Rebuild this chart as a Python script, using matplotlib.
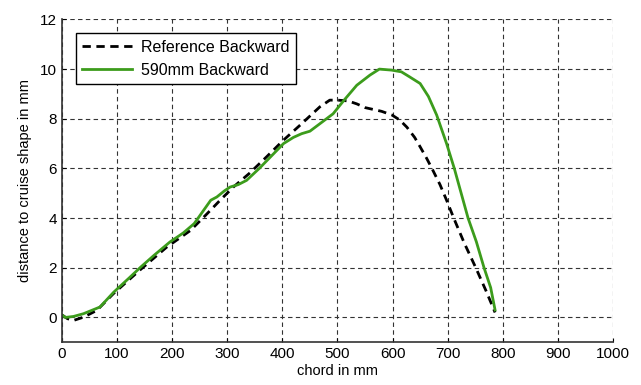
import matplotlib.pyplot as plt
import numpy as np

plt.rcParams['font.family'] = ['Liberation Sans', 'DejaVu Sans']

# reference backward (black dashed)
ref_x = [0, 10, 21, 39, 63, 93, 141, 190, 233, 260, 287, 311, 340, 371, 402, 430, 468,
         486, 500, 519, 535, 550, 580, 599, 613, 626, 640, 650, 662, 673, 686, 698, 711,
         730, 751, 770, 786]
ref_y = [0.1, -0.05, -0.12, 0.01, 0.28, 0.95, 1.9, 2.83, 3.5, 4.1, 4.72, 5.25, 5.8,
         6.46, 7.14, 7.7, 8.48, 8.75, 8.75, 8.72, 8.6, 8.45, 8.3, 8.15, 7.95, 7.66,
         7.25, 6.87, 6.4, 5.93, 5.35, 4.72, 4.0, 3.0, 2.0, 1.05, 0.2]

# 590mm backward (green)
new_x = [0, 6, 21, 39, 69, 94, 120, 143, 167, 196, 220, 240, 255, 270, 281, 295, 305,
         320, 335, 358, 380, 402, 420, 435, 450, 468, 492, 512, 535, 559, 576, 598,
         616, 630, 650, 665, 680, 698, 712, 728, 737, 752, 766, 778, 786]
new_y = [0.1, 0.0, 0.04, 0.15, 0.42, 1.02, 1.55, 2.03, 2.5, 3.04, 3.4, 3.78, 4.25,
         4.72, 4.85, 5.1, 5.25, 5.35, 5.52, 6.0, 6.5, 7.0, 7.25, 7.4, 7.5, 7.8, 8.2,
         8.75, 9.35, 9.76, 10.0, 9.96, 9.89, 9.7, 9.42, 8.9, 8.15, 7.0, 6.0, 4.72, 4.0,
         3.05, 2.0, 1.2, 0.3]

fig = plt.figure(figsize=(6.41, 3.85), dpi=100)
ax = fig.add_axes([0.0967, 0.111, 0.8596, 0.8385])

ax.plot(ref_x, ref_y, color='black', linestyle=(0, (3, 2)), linewidth=2.0,
        label='Reference Backward')
ax.plot(new_x, new_y, color='#3c9c1c', linewidth=2.0, label='590mm Backward')

ax.set_xlim(0, 1000)
ax.set_ylim(-1, 12)
ax.set_xticks(np.arange(0, 1001, 100))
ax.set_yticks(np.arange(0, 13, 2))
ax.grid(True, color='#333333', linestyle=(0, (4, 3)), linewidth=0.8)
ax.set_axisbelow(True)

for s in ['top', 'right']:
    ax.spines[s].set_visible(False)
for s in ['left', 'bottom']:
    ax.spines[s].set_color('#333333')
    ax.spines[s].set_linewidth(1.2)
ax.tick_params(direction='in', length=3, labelsize=11, colors='black')

ax.set_xlabel('chord in mm', fontsize=10.5, labelpad=2)
ax.set_ylabel('distance to cruise shape in mm', fontsize=10.5, labelpad=6)

leg = ax.legend(loc='upper left', bbox_to_anchor=(0.025, 0.957), fontsize=11.5,
                fancybox=False, framealpha=1, edgecolor='black', borderpad=0.4,
                handlelength=3.1, handletextpad=0.6, labelspacing=0.5,
                borderaxespad=0)
leg.get_frame().set_linewidth(1.0)

fig.savefig('out.png', dpi=100)
